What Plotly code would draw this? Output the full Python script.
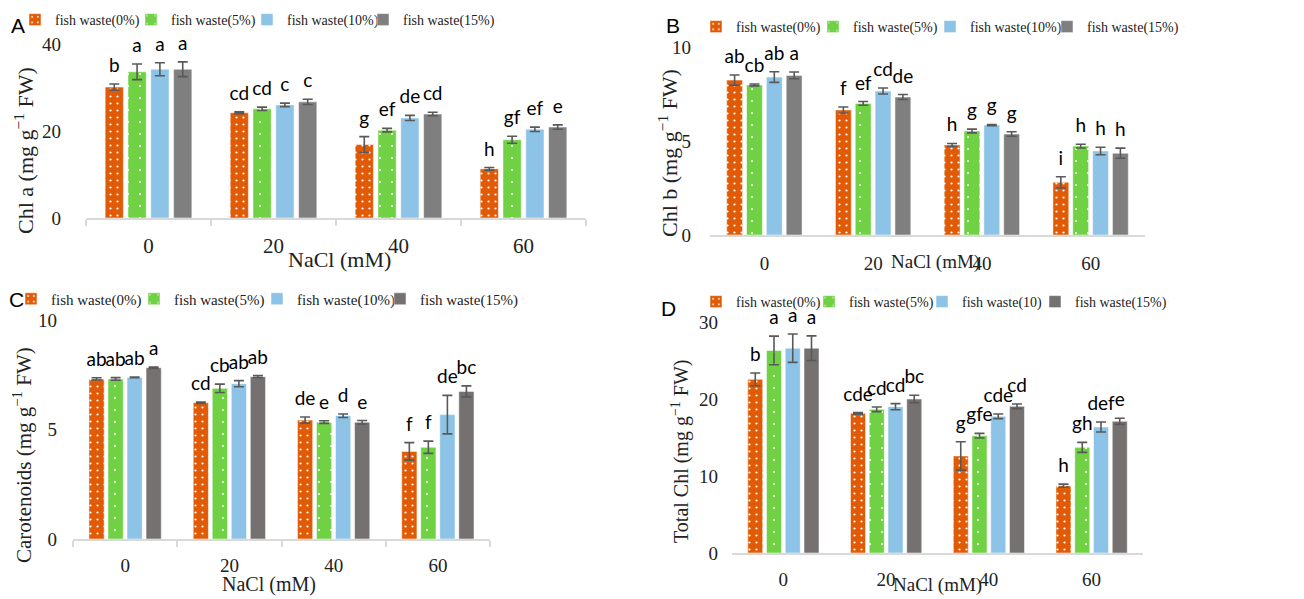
import plotly.graph_objects as go

nacl = ["0", "20", "40", "60"]
series_names = ["fish waste(0%)", "fish waste(5%)", "fish waste(10%)", "fish waste(15%)"]
series_names_d = ["fish waste(0%)", "fish waste(5%)", "fish waste(10)", "fish waste(15%)"]

# Panel A: Chl a
chla_vals = [[30.1, 24.2, 16.9, 11.3],
             [33.6, 25.1, 20.2, 18.0],
             [34.2, 26.0, 23.0, 20.4],
             [34.2, 26.7, 23.9, 20.9]]
chla_err = [[0.7, 0.2, 1.8, 0.3],
            [1.8, 0.4, 0.4, 0.8],
            [1.5, 0.4, 0.6, 0.5],
            [1.7, 0.6, 0.4, 0.5]]
chla_letters = [["b", "cd", "g", "h"],
                ["a", "cd", "ef", "gf"],
                ["a", "c", "de", "ef"],
                ["a", "c", "cd", "e"]]

# Panel B: Chl b
chlb_vals = [[8.24, 6.65, 4.79, 2.80],
             [7.98, 7.00, 5.53, 4.73],
             [8.40, 7.66, 5.85, 4.47],
             [8.49, 7.34, 5.37, 4.35]]
chlb_err = [[0.27, 0.16, 0.08, 0.30],
            [0.05, 0.10, 0.10, 0.10],
            [0.28, 0.16, 0.03, 0.20],
            [0.18, 0.13, 0.12, 0.27]]
chlb_letters = [["ab", "f", "h", "i"],
                ["cb", "ef", "g", "h"],
                ["ab", "cd", "g", "h"],
                ["a", "de", "g", "h"]]

# Panel C: Carotenoids
car_vals = [[7.31, 6.22, 5.43, 4.00],
            [7.31, 6.88, 5.34, 4.19],
            [7.38, 7.09, 5.63, 5.68],
            [7.82, 7.41, 5.33, 6.74]]
car_err = [[0.05, 0.03, 0.14, 0.40],
           [0.06, 0.19, 0.06, 0.28],
           [0.02, 0.14, 0.08, 0.88],
           [0.03, 0.05, 0.08, 0.25]]
car_letters = [["ab", "cd", "de", "f"],
               ["ab", "cb", "e", "f"],
               ["ab", "ab", "d", "de"],
               ["a", "ab", "e", "bc"]]

# Panel D: Total Chl
tot_vals = [[22.55, 18.14, 12.60, 8.74],
            [26.30, 18.66, 15.24, 13.72],
            [26.60, 19.00, 17.75, 16.36],
            [26.60, 20.00, 19.05, 17.10]]
tot_err = [[0.82, 0.10, 1.84, 0.20],
           [1.86, 0.30, 0.30, 0.65],
           [1.84, 0.40, 0.30, 0.65],
           [1.60, 0.48, 0.30, 0.40]]
tot_letters = [["b", "cde", "g", "h"],
               ["a", "cd", "gfe", "gh"],
               ["a", "cd", "cde", "def"],
               ["a", "bc", "cd", "e"]]

# page body has an 8px margin: figure spans screen px 8..1304 x 8..599
OFF = 8
W, H = 1304 - OFF, 599 - OFF
ORANGE = "#E15B06"
GREEN = "#6FD143"
BLUE = "#8DC3E6"
GRAY_AB = "#7F7F7F"
GRAY_CD = "#767171"
ERR = "#595959"
AXIS = "#D9D9D9"
SERIF = "Liberation Serif"
LETTER_FONT = "Lato"


def px_x(p):
    return (p - OFF) / W


def px_y(p):
    return 1 - (p - OFF) / H


panels = [
    dict(vals=chla_vals, err=chla_err, letters=chla_letters, names=series_names,
         gray=GRAY_AB, ax="", x0=86, x1=586, y0=218, ytop=44, yrange=[0, 40], dtick=20,
         ticks=True, legend="legend", ystand=24, xstand=8, xfont=21),
    dict(vals=chlb_vals, err=chlb_err, letters=chlb_letters, names=series_names,
         gray=GRAY_AB, ax="2", x0=710, x1=1145, y0=235, ytop=47, yrange=[0, 10], dtick=5,
         ticks=False, legend="legend2", ystand=18, xstand=10, xfont=19),
    dict(vals=car_vals, err=car_err, letters=car_letters, names=series_names,
         gray=GRAY_CD, ax="3", x0=73, x1=490, y0=539, ytop=320, yrange=[0, 10], dtick=5,
         ticks=True, legend="legend3", ystand=15, xstand=8, xfont=19),
    dict(vals=tot_vals, err=tot_err, letters=tot_letters, names=series_names_d,
         gray=GRAY_CD, ax="4", x0=732, x1=1143, y0=553, ytop=322, yrange=[0, 30], dtick=10,
         ticks=False, legend="legend4", ystand=13, xstand=8, xfont=19),
]

fig = go.Figure()
layout_axes = {}

for p in panels:
    colors = [ORANGE, GREEN, BLUE, p["gray"]]
    patterns = [dict(shape=".", size=7, solidity=0.08, fgcolor="white", bgcolor=ORANGE, fillmode="replace"),
                dict(shape=".", size=12, solidity=0.025, fgcolor="white", bgcolor=GREEN, fillmode="replace"),
                None, None]
    xa = "x" + p["ax"]
    ya = "y" + p["ax"]
    for i in range(4):
        marker = dict(color=colors[i], line=dict(width=1, color="rgba(255,255,255,0.5)"))
        if patterns[i] is not None:
            marker["pattern"] = patterns[i]
        fig.add_trace(go.Bar(
            x=nacl, y=p["vals"][i], name=p["names"][i], marker=marker,
            error_y=dict(type="data", array=p["err"][i], color=ERR, thickness=1.6, width=5),
            offsetgroup=str(i), xaxis=xa, yaxis=ya, legend=p["legend"],
            hoverinfo="skip",
        ))
    for i in range(4):
        fig.add_trace(go.Scatter(
            x=nacl, y=[v + e for v, e in zip(p["vals"][i], p["err"][i])],
            text=p["letters"][i], mode="markers+text", textposition="top center",
            marker=dict(size=10, color="rgba(0,0,0,0)"),
            textfont=dict(family=LETTER_FONT, size=19, color="black"),
            offsetgroup=str(i), xaxis=xa, yaxis=ya, showlegend=False,
            cliponaxis=False, hoverinfo="skip",
        ))
    # invisible spacer entry so the last legend label is not clipped
    fig.add_trace(go.Scatter(
        x=nacl[:1], y=[0], mode="markers", name=" ",
        marker=dict(size=1, opacity=0), offsetgroup="3",
        xaxis=xa, yaxis=ya, legend=p["legend"], showlegend=True, hoverinfo="skip",
    ))

    xkey = "xaxis" + p["ax"]
    ykey = "yaxis" + p["ax"]
    layout_axes[xkey] = dict(
        domain=[px_x(p["x0"]), px_x(p["x1"])], anchor=ya,
        type="category", showline=True, linecolor=AXIS, linewidth=2,
        ticks="outside" if p["ticks"] else "", tickson="boundaries",
        ticklen=6, tickwidth=2, tickcolor=AXIS,
        ticklabelstandoff=p["xstand"],
        tickfont=dict(family=SERIF, size=p["xfont"], color="#222"),
        showgrid=False, zeroline=False, fixedrange=True, automargin=False,
    )
    layout_axes[ykey] = dict(
        domain=[px_y(p["y0"]), px_y(p["ytop"])], anchor=xa,
        range=p["yrange"], dtick=p["dtick"], showline=False, showgrid=False,
        zeroline=False, ticks="", ticklabelstandoff=p["ystand"],
        tickfont=dict(family=SERIF, size=19, color="#222"), fixedrange=True,
        automargin=False,
    )

legend_common = dict(orientation="h", yanchor="middle", xanchor="left",
                     bgcolor="rgba(0,0,0,0)", borderwidth=0, tracegroupgap=0,
                     itemclick=False, itemdoubleclick=False)

fig.update_layout(
    width=W, height=H,
    margin=dict(l=0, r=0, t=0, b=0, autoexpand=False),
    paper_bgcolor="white", plot_bgcolor="white",
    barmode="group", bargap=0.27, bargroupgap=0.2,
    scattermode="group", scattergap=0.27,
    font=dict(family=SERIF, color="#222"),
    legend=dict(x=px_x(15), y=px_y(20), entrywidth=71,
                font=dict(family=SERIF, size=14, color="#222"), **legend_common),
    legend2=dict(x=px_x(696), y=px_y(27), entrywidth=72,
                 font=dict(family=SERIF, size=14, color="#222"), **legend_common),
    legend3=dict(x=px_x(11), y=px_y(299), entrywidth=78,
                 font=dict(family=SERIF, size=15, color="#222"), **legend_common),
    legend4=dict(x=px_x(696), y=px_y(302), entrywidth=68,
                 font=dict(family=SERIF, size=14, color="#222"), **legend_common),
    **layout_axes,
)

# Axis titles, panel labels
ytitles = [("Chl a (mg g<sup>−1</sup> FW)", 24, 151, 22),
           ("Chl b (mg g<sup>−1</sup> FW)", 668, 153, 22),
           ("Carotenoids (mg g<sup>−1</sup> FW)", 22, 455, 21),
           ("Total Chl (mg g<sup>−1</sup> FW)", 680, 451, 20)]
for txt, x, y, fs in ytitles:
    fig.add_annotation(text=txt, x=px_x(x), y=px_y(y), xref="paper", yref="paper",
                       textangle=-90, showarrow=False, xanchor="center", yanchor="middle",
                       font=dict(family=SERIF, size=fs, color="#222"))

xtitles = [(339, 260, 22), (935, 262, 19), (269, 584, 20), (937, 585, 19)]
for x, y, fs in xtitles:
    fig.add_annotation(text="NaCl (mM)", x=px_x(x), y=px_y(y), xref="paper", yref="paper",
                       showarrow=False, xanchor="center", yanchor="middle",
                       font=dict(family=SERIF, size=fs, color="#222"))

labels = [("A", 18, 26), ("B", 673, 25), ("C", 16, 299), ("D", 668, 308)]
for t, x, y in labels:
    fig.add_annotation(text=t, x=px_x(x), y=px_y(y), xref="paper", yref="paper",
                       showarrow=False, xanchor="center", yanchor="middle",
                       font=dict(family="Liberation Sans", size=21, color="black"))

fig.write_html("out.html")
